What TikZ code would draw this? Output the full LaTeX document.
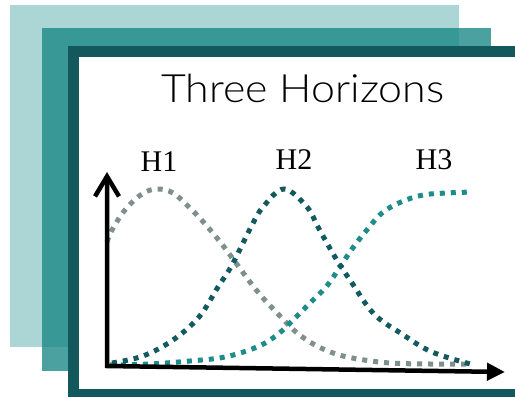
\documentclass[tikz,border=0pt]{standalone}
\usepackage{fontspec}
\setmainfont{Liberation Serif}
\newfontfamily\titlefont{Lato Light}
\usetikzlibrary{arrows.meta}

\definecolor{paleteal}{HTML}{ACD6D5}
\definecolor{midteal}{HTML}{188784}
\definecolor{deepteal}{HTML}{12585C}
\definecolor{hgray}{HTML}{7F8F8C}
\definecolor{hdark}{HTML}{135A5E}
\definecolor{hteal}{HTML}{1E8C8A}

\begin{document}
\begin{tikzpicture}[
        x=1pt, y=-1pt,
        sheet/.style={draw=none},
        hcurve/.style={line width=5pt, dash pattern=on 5pt off 6pt,
            line cap=butt},
        axis/.style={line width=4.5pt, black, line join=miter},
        hlbl/.style={font=\fontsize{30}{30}\selectfont, anchor=base,
            inner sep=0pt}
    ]
    \useasboundingbox (0,0) rectangle (515,397);

    % Stacked sheets
    \fill[sheet, paleteal] (10,5) rectangle (459,347);
    \fill[sheet, midteal, fill opacity=0.78] (42,28) rectangle (491,371);
    \fill[sheet, deepteal] (68,46) rectangle (515,397);
    \fill[sheet, white] (79,57) rectangle (515,389);

    % Title
    \node[font=\titlefont\fontsize{39}{39}\selectfont, anchor=base,
          inner sep=0pt, xscale=1.1] (title) at (303,102) {Three Horizons};

    % Labels
    \node[hlbl] (h1) at (159,171) {H1};
    \node[hlbl] (h2) at (294,169) {H2};
    \node[hlbl] (h3) at (434,169) {H3};

    % H1
    \draw[hcurve, hgray] plot[smooth, tension=0.6] coordinates {
        (107,242) (112,230) (125,210) (142,194) (157,189) (173,193)
        (191,209) (206,225) (221,243) (236,263) (250,282) (263,298)
        (279,315) (296,332) (315,345) (336,354) (358,359) (390,363)
        (430,364) (472,364)};

    % H3
    \draw[hcurve, hteal] plot[smooth, tension=0.6] coordinates {
        (110,365) (150,364) (190,361) (225,357) (257,347) (277,335)
        (293,320) (310,303) (326,287) (340,267) (352,249) (366,231)
        (382,213) (401,202) (423,195) (447,193) (472,192)};

    % H2
    \draw[hcurve, hdark] plot[smooth, tension=0.6] coordinates {
        (112,363) (143,356) (173,340) (199,317) (218,287) (232,265)
        (251,227) (263,207) (284,189) (307,207) (318,227) (335,257)
        (352,283) (374,314) (402,334) (432,352) (474,365)};

    % Axes
    \coordinate (ytop) at (107,172);
    \coordinate (origin) at (107,366);
    \coordinate (xend) at (505,372);
    \draw[axis, {Straight Barb[length=20pt, width=24pt]}-{Triangle[length=18pt, width=17pt]}]
        (ytop) -- (origin) -- (xend);

\end{tikzpicture}
\end{document}
